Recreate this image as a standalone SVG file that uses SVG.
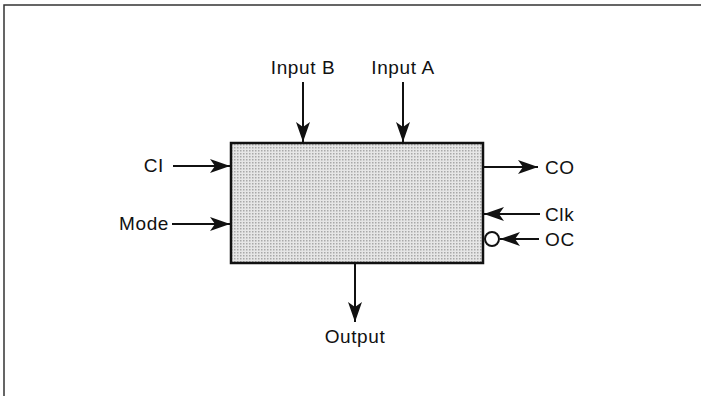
<svg xmlns="http://www.w3.org/2000/svg" width="701" height="396" viewBox="0 0 701 396">
<style>
.t{font-family:"Liberation Sans",Arial,sans-serif;font-size:19px;letter-spacing:0.6px;fill:#111}
.w{stroke:#111;stroke-width:2;fill:none}
</style>
<defs>
<pattern id="dots" width="3" height="3" patternUnits="userSpaceOnUse">
<rect width="3" height="3" fill="#e6e6e6"/>
<rect x="0" y="0" width="1.5" height="1.5" fill="#a8a8a8"/>
</pattern>
<marker id="ahb" viewBox="0 0 20 14" refX="20" refY="7" markerWidth="20" markerHeight="14" markerUnits="userSpaceOnUse" orient="auto">
<path d="M0,0 L20,7 L0,14 L5,7 Z" fill="#111"/>
</marker>
</defs>
<g id="frame">
<path d="M4,396 V5 H701" stroke="#333" stroke-width="1.5" fill="none"/>
</g>
<g id="block">
<rect x="231" y="143" width="252" height="120" fill="url(#dots)" stroke="#111" stroke-width="2.5"/>
</g>
<g id="oc-bubble">
<circle cx="492" cy="239" r="7" fill="#fff" stroke="#111" stroke-width="2"/>
</g>
<g id="connectors">
<line class="w" x1="303" y1="82" x2="303" y2="142" marker-end="url(#ahb)"/>
<line class="w" x1="403" y1="82" x2="403" y2="142" marker-end="url(#ahb)"/>
<line class="w" x1="173" y1="166" x2="230" y2="166" marker-end="url(#ahb)"/>
<line class="w" x1="172" y1="224" x2="230" y2="224" marker-end="url(#ahb)"/>
<line class="w" x1="484" y1="167" x2="538" y2="167" marker-end="url(#ahb)"/>
<line class="w" x1="540" y1="214" x2="484" y2="214" marker-end="url(#ahb)"/>
<line class="w" x1="539" y1="239" x2="500" y2="239" marker-end="url(#ahb)"/>
<line class="w" x1="355" y1="264" x2="355" y2="322" marker-end="url(#ahb)"/>
</g>
<g id="labels">
<text class="t" x="303" y="74" text-anchor="middle">Input B</text>
<text class="t" x="403" y="74" text-anchor="middle">Input A</text>
<text class="t" x="164" y="172" text-anchor="end">CI</text>
<text class="t" x="169" y="230" text-anchor="end">Mode</text>
<text class="t" x="545" y="174">CO</text>
<text class="t" x="545" y="221">Clk</text>
<text class="t" x="545" y="246">OC</text>
<text class="t" x="355" y="343" text-anchor="middle">Output</text>
</g>
</svg>
